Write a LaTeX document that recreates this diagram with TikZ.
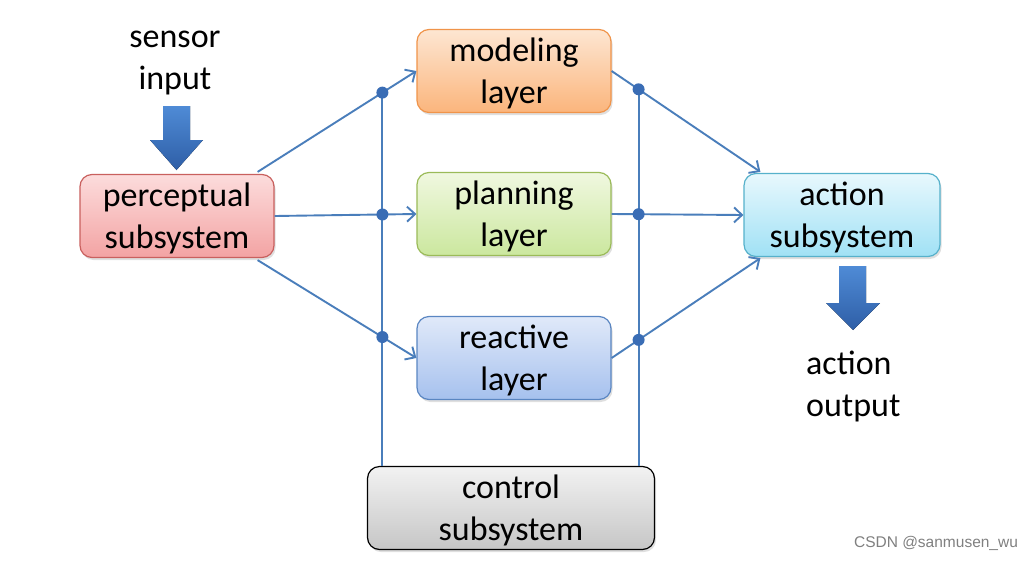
\documentclass[tikz,border=0pt]{standalone}
\usepackage{fontspec}
\setmainfont{Carlito}
\newfontfamily\wmfont{Liberation Sans}
\usetikzlibrary{arrows.meta,shadows,intersections,calc}
\definecolor{ln}{HTML}{4A7EBB}
\definecolor{dotc}{HTML}{3A6DB5}
\definecolor{redB}{HTML}{C9605E}
\definecolor{redT}{HTML}{FCDCDC}
\definecolor{redD}{HTML}{F3A3A3}
\definecolor{orB}{HTML}{F0944A}
\definecolor{orT}{HTML}{FDE6D2}
\definecolor{orD}{HTML}{FBB57C}
\definecolor{grB}{HTML}{9BBB59}
\definecolor{grT}{HTML}{F0F8E0}
\definecolor{grD}{HTML}{CBE79E}
\definecolor{blB}{HTML}{5A86C2}
\definecolor{blT}{HTML}{E0E9F9}
\definecolor{blD}{HTML}{A6C1EE}
\definecolor{cyB}{HTML}{56B1CB}
\definecolor{cyT}{HTML}{E8F8FD}
\definecolor{cyD}{HTML}{A0E1F5}
\definecolor{gyT}{HTML}{F2F2F2}
\definecolor{gyD}{HTML}{C6C6C6}
\definecolor{bkT}{HTML}{4F8BD6}
\definecolor{bkD}{HTML}{2E5EA6}
\newcommand\boxtxt[1]{\raisebox{10pt}[0pt][0pt]{\begin{tabular}[t]{@{}c@{}}#1\end{tabular}}}
\begin{document}
\begin{tikzpicture}[x=1pt,y=-1pt,
  box/.style={rounded corners=12pt, minimum width=194pt, minimum height=83pt,
    align=center, font=\fontsize{34}{42}\selectfont, line width=1.2pt, inner sep=0pt,
    drop shadow={opacity=0.25,shadow xshift=1.5pt,shadow yshift=-2.5pt}},
  conn/.style={draw=ln, line width=1.9pt},
  arr/.style={conn, -{Straight Barb[length=8pt,width=15pt,line width=1.9pt]}},
  dotm/.style={fill=dotc},
  lbl/.style={font=\fontsize{34}{41.5}\selectfont, inner sep=0pt},
  blk/.style={top color=bkT, bottom color=bkD, draw=none}
]
\useasboundingbox (0,0) rectangle (1035,560);
\fill[white] (0,0) rectangle (1035,560);

\node[box, draw=redB, top color=redT, bottom color=redD] (perc) at (177,216) {\boxtxt{perceptual\\subsystem}};
\node[box, draw=orB, top color=orT, bottom color=orD] (mod) at (514,71) {\boxtxt{modeling\\layer}};
\node[box, draw=grB, top color=grT, bottom color=grD] (plan) at (514,214) {\boxtxt{planning\\layer}};
\node[box, draw=blB, top color=blT, bottom color=blD] (react) at (514,358) {\boxtxt{reactive\\layer}};
\node[box, minimum width=196pt, draw=cyB, top color=cyT, bottom color=cyD] (act) at (842,215) {\boxtxt{action\\subsystem}};
\node[box, minimum width=287pt, draw=black, top color=gyT, bottom color=gyD] (ctrl) at (511,508) {\boxtxt{control\\subsystem}};

\node[lbl, align=center] (sens) at (175,63) {sensor\\input};
\node[lbl, align=left, anchor=west] (aout) at (806,386.5) {action\\output};
\node[font=\wmfont\fontsize{15.5}{18}\selectfont, text=black!50, inner sep=0pt] (wm) at (936,543) {CSDN @sanmusen\_wu};

% block arrows
\fill[blk] (163,106) -- (190,106) -- (190,140) -- (203,140) -- (176.5,170) -- (150,140) -- (163,140) -- cycle;
\fill[blk] (839,266) -- (866,266) -- (866,303) -- (880,303) -- (853,330) -- (826,303) -- (839,303) -- cycle;

% connectors
\draw[arr, name path=a1] ($(perc.north east)+(-17,-2)$) -- (mod.west);
\draw[arr, name path=a2] (perc.east) -- (plan.west);
\draw[arr, name path=a3] ($(perc.south east)+(-17,2)$) -- (react.west);
\draw[arr, name path=b1] (mod.east) -- ($(act.north west)+(17,-1)$);
\draw[arr, name path=b2] (plan.east) -- (act.west);
\draw[arr, name path=b3] (react.east) -- ($(act.south west)+(17,1)$);

\path[name path=v1] ($(ctrl.north west)+(15.5,0)$) -- +(0,-480);
\path[name path=v2] ($(ctrl.north east)+(-16.5,0)$) -- +(0,-480);

\path[name intersections={of=v1 and a1, by=d1}];
\path[name intersections={of=v1 and a2, by=d2}];
\path[name intersections={of=v1 and a3, by=d3}];
\path[name intersections={of=v2 and b1, by=e1}];
\path[name intersections={of=v2 and b2, by=e2}];
\path[name intersections={of=v2 and b3, by=e3}];

\draw[conn] (ctrl.north west -| d1) -- (d1);
\draw[conn] (ctrl.north east -| e1) -- (e1);

\foreach \p in {d1,d2,d3,e1,e2,e3} \fill[dotm] (\p) circle (6pt);
\end{tikzpicture}
\end{document}
